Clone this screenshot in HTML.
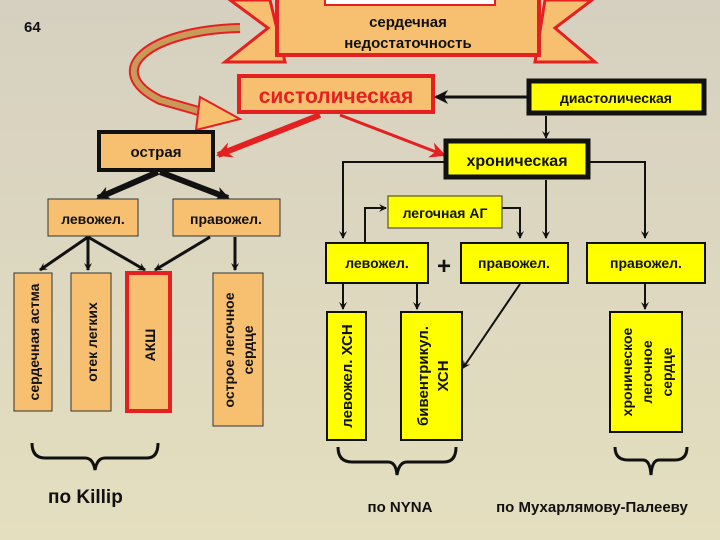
<!DOCTYPE html>
<html><head><meta charset="utf-8"><style>
body{margin:0;width:720px;height:540px;overflow:hidden;background:linear-gradient(#d6d0c0,#e4dfbf);}
svg{display:block}
text{font-family:"Liberation Sans",sans-serif;font-weight:bold;fill:#111}
</style></head><body>
<svg width="720" height="540" viewBox="0 0 720 540" xmlns="http://www.w3.org/2000/svg">
<defs>
<marker id="a" markerWidth="8" markerHeight="8" refX="7" refY="4" orient="auto" markerUnits="userSpaceOnUse"><path d="M0,0 L8,4 L0,8 L3,4z" fill="#111"/></marker>
<marker id="ab" markerWidth="14" markerHeight="14" refX="12" refY="7" orient="auto" markerUnits="userSpaceOnUse"><path d="M0,0 L14,7 L0,14 L4,7z" fill="#111"/></marker>
<marker id="ar" markerWidth="16" markerHeight="16" refX="14" refY="8" orient="auto" markerUnits="userSpaceOnUse"><path d="M0,0 L16,8 L0,16 L5,8z" fill="#e52020"/></marker>
</defs>
<text x="24" y="32" font-size="15">64</text>
<!-- ribbon -->
<path d="M270,0 L230,0 L268,28 L225,62 L285,62 Z" fill="#f7c070" stroke="#e52020" stroke-width="3"/>
<path d="M545,0 L592,0 L555,28 L595,62 L535,62 Z" fill="#f7c070" stroke="#e52020" stroke-width="3"/>
<rect x="277" y="-3" width="262" height="58" fill="#f7c070" stroke="#e52020" stroke-width="4"/>
<rect x="325" y="-3" width="170" height="8" fill="#fff" stroke="#e52020" stroke-width="2"/>
<text x="408" y="27" font-size="15" text-anchor="middle" font-weight="normal">сердечная</text>
<text x="408" y="48" font-size="15" text-anchor="middle" font-weight="normal">недостаточность</text>
<!-- curved arrow -->
<path d="M240,28 C150,30 100,70 160,100 L202,112" fill="none" stroke="#e52020" stroke-width="10"/>
<path d="M240,28 C150,30 100,70 160,100 L202,112" fill="none" stroke="#c89a5a" stroke-width="6"/>
<path d="M200,97 L240,119 L196,130 Z" fill="#f7c070" stroke="#e52020" stroke-width="2"/>
<!-- systolic -->
<rect x="239" y="76" width="194" height="36" fill="#f7c070" stroke="#e52020" stroke-width="4"/>
<text x="336" y="103" font-size="21" text-anchor="middle" fill="#e52020" style="fill:#e52020">систолическая</text>
<rect x="529" y="81" width="175" height="32" fill="#ffff00" stroke="#111" stroke-width="5"/>
<text x="616" y="103" font-size="14" text-anchor="middle" font-weight="normal">диастолическая</text>
<line x1="529" y1="97" x2="436" y2="97" stroke="#111" stroke-width="3" marker-end="url(#ab)"/>
<line x1="546" y1="116" x2="546" y2="138" stroke="#111" stroke-width="2" marker-end="url(#a)"/>
<!-- red arrows -->
<line x1="320" y1="115" x2="218" y2="155" stroke="#e52020" stroke-width="6" marker-end="url(#ar)"/>
<line x1="340" y1="115" x2="444" y2="155" stroke="#e52020" stroke-width="3" marker-end="url(#ar)"/>
<!-- acute -->
<rect x="99" y="132" width="114" height="38" fill="#f7c070" stroke="#111" stroke-width="4"/>
<text x="156" y="157" font-size="15" text-anchor="middle" font-weight="normal">острая</text>
<rect x="446" y="141" width="142" height="36" fill="#ffff00" stroke="#111" stroke-width="5"/>
<text x="517" y="166" font-size="16" text-anchor="middle" font-weight="normal">хроническая</text>
<line x1="158" y1="172" x2="98" y2="198" stroke="#111" stroke-width="6" marker-end="url(#ab)"/>
<line x1="160" y1="172" x2="228" y2="198" stroke="#111" stroke-width="6" marker-end="url(#ab)"/>
<rect x="48" y="199" width="90" height="37" fill="#f7c070" stroke="#333" stroke-width="1"/>
<text x="93" y="224" font-size="14" text-anchor="middle" font-weight="normal">левожел.</text>
<rect x="173" y="199" width="107" height="37" fill="#f7c070" stroke="#333" stroke-width="1"/>
<text x="226" y="224" font-size="14" text-anchor="middle" font-weight="normal">правожел.</text>
<!-- left sub arrows -->
<g stroke="#111" stroke-width="3" fill="none">
<line x1="88" y1="237" x2="40" y2="270" marker-end="url(#a)"/>
<line x1="88" y1="237" x2="88" y2="270" marker-end="url(#a)"/>
<line x1="88" y1="237" x2="145" y2="270" marker-end="url(#a)"/>
<line x1="210" y1="237" x2="155" y2="270" marker-end="url(#a)"/>
<line x1="235" y1="237" x2="235" y2="270" marker-end="url(#a)"/>
</g>
<!-- vertical boxes left -->
<rect x="14" y="273" width="38" height="138" fill="#f7c070" stroke="#333"/>
<rect x="71" y="273" width="40" height="138" fill="#f7c070" stroke="#333"/>
<rect x="127" y="273" width="43" height="138" fill="#f7c070" stroke="#e52020" stroke-width="4"/>
<rect x="213" y="273" width="50" height="153" fill="#f7c070" stroke="#333"/>
<text transform="translate(39,342) rotate(-90)" font-size="14" text-anchor="middle" font-weight="normal">сердечная астма</text>
<text transform="translate(97,342) rotate(-90)" font-size="14" text-anchor="middle">отек легких</text>
<text transform="translate(155,345) rotate(-90)" font-size="14" text-anchor="middle">АКШ</text>
<text transform="translate(234,350) rotate(-90)" font-size="14" text-anchor="middle" font-weight="normal">острое легочное</text>
<text transform="translate(253,350) rotate(-90)" font-size="14" text-anchor="middle" font-weight="normal">сердце</text>
<!-- chronic branches -->
<g stroke="#111" stroke-width="2" fill="none">
<polyline points="446,162 343,162 343,238" marker-end="url(#a)"/>
<line x1="546" y1="180" x2="546" y2="238" marker-end="url(#a)"/>
<polyline points="588,162 645,162 645,238" marker-end="url(#a)"/>
<polyline points="365,243 365,208 386,208" marker-end="url(#a)"/>
<polyline points="502,208 520,208 520,238" marker-end="url(#a)"/>
<line x1="343" y1="284" x2="343" y2="309" marker-end="url(#a)"/>
<line x1="417" y1="284" x2="417" y2="309" marker-end="url(#a)"/>
<line x1="520" y1="284" x2="463" y2="368" marker-end="url(#a)"/>
<line x1="645" y1="284" x2="645" y2="309" marker-end="url(#a)"/>
</g>
<rect x="388" y="196" width="114" height="32" fill="#ffff00" stroke="#333"/>
<text x="445" y="218" font-size="14" text-anchor="middle" font-weight="normal">легочная АГ</text>
<rect x="326" y="243" width="102" height="40" fill="#ffff00" stroke="#111" stroke-width="2"/>
<text x="377" y="268" font-size="14" text-anchor="middle" font-weight="normal">левожел.</text>
<text x="444" y="274" font-size="24" text-anchor="middle">+</text>
<rect x="461" y="243" width="107" height="40" fill="#ffff00" stroke="#111" stroke-width="2"/>
<text x="514" y="268" font-size="14" text-anchor="middle" font-weight="normal">правожел.</text>
<rect x="587" y="243" width="118" height="40" fill="#ffff00" stroke="#111" stroke-width="2"/>
<text x="646" y="268" font-size="14" text-anchor="middle" font-weight="normal">правожел.</text>
<rect x="327" y="312" width="39" height="128" fill="#ffff00" stroke="#111" stroke-width="2"/>
<rect x="401" y="312" width="61" height="128" fill="#ffff00" stroke="#111" stroke-width="2"/>
<rect x="610" y="312" width="72" height="120" fill="#ffff00" stroke="#111" stroke-width="2"/>
<text transform="translate(352,376) rotate(-90)" font-size="15" text-anchor="middle" font-weight="normal">левожел. ХСН</text>
<text transform="translate(428,376) rotate(-90)" font-size="15" text-anchor="middle" font-weight="normal">бивентрикул.</text>
<text transform="translate(448,376) rotate(-90)" font-size="15" text-anchor="middle" font-weight="normal">ХСН</text>
<text transform="translate(632,372) rotate(-90)" font-size="14" text-anchor="middle" font-weight="normal">хроническое</text>
<text transform="translate(652,372) rotate(-90)" font-size="14" text-anchor="middle" font-weight="normal">легочное</text>
<text transform="translate(672,372) rotate(-90)" font-size="14" text-anchor="middle" font-weight="normal">сердце</text>
<!-- braces -->
<g stroke="#111" stroke-width="3" fill="none">
<path d="M32,443 Q32,458 45,458 L85,458 Q93,458 95,470 Q97,458 105,458 L147,458 Q158,458 158,443"/>
<path d="M338,447 Q338,462 352,462 L388,462 Q396,462 397,475 Q399,462 407,462 L444,462 Q456,462 456,447"/>
<path d="M615,447 Q615,460 628,460 L643,460 Q650,460 651,475 Q652,460 659,460 L675,460 Q687,460 687,447"/>
</g>
<text x="48" y="503" font-size="19" font-weight="normal">по Killip</text>
<text x="400" y="512" font-size="15" text-anchor="middle" font-weight="normal">по NYNA</text>
<text x="592" y="512" font-size="15" text-anchor="middle" font-weight="normal">по Мухарлямову-Палееву</text>
</svg>
</body></html>
